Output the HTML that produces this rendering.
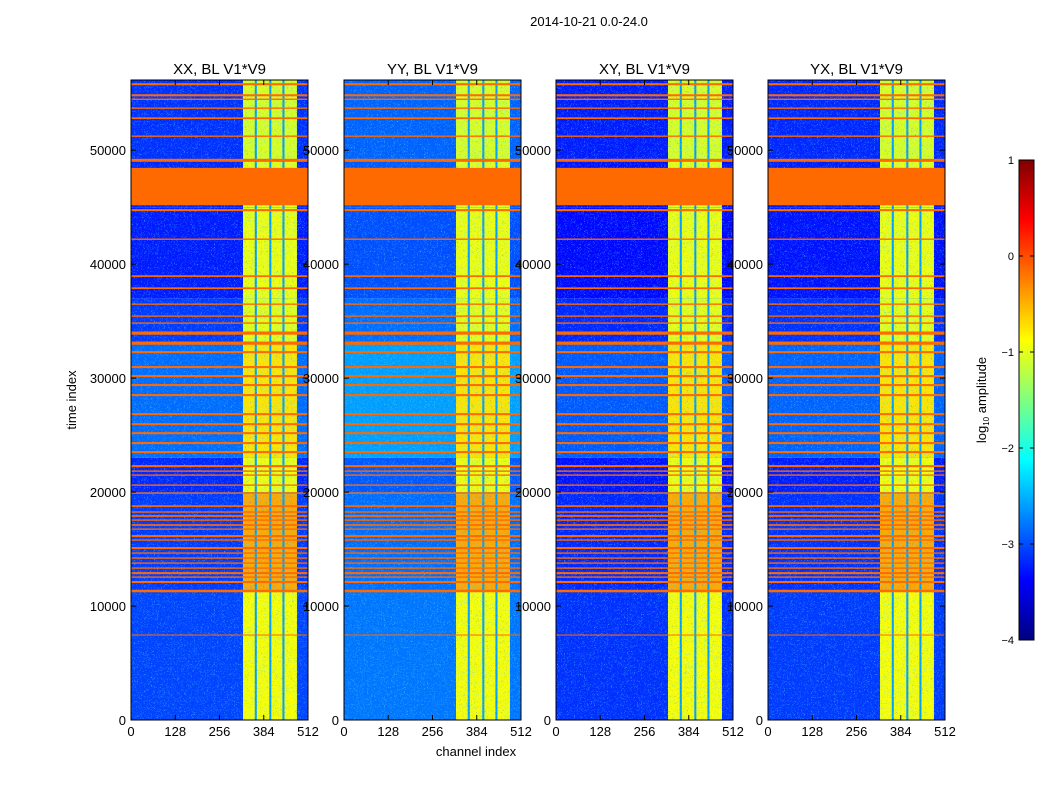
<!DOCTYPE html>
<html><head><meta charset="utf-8"><style>
body{margin:0;background:#fff;}
svg{display:block;font-family:"Liberation Sans","DejaVu Sans",sans-serif;}
</style></head><body>
<svg id="fig" width="1050" height="800" viewBox="0 0 1050 800">
<defs>
<filter id="noise" x="0" y="0" width="100%" height="100%">
<feTurbulence type="turbulence" baseFrequency="0.7" numOctaves="2" seed="3"/>
<feColorMatrix type="matrix" values="0 0 0 0 0.1  0 0 0 0 0.8  0 0 0 0 1  3 0 0 0 -0.9"/>
</filter>
<filter id="noise2" x="0" y="0" width="100%" height="100%">
<feTurbulence type="turbulence" baseFrequency="0.8" numOctaves="1" seed="11"/>
<feColorMatrix type="matrix" values="0 0 0 0 0  0 0 0 0 0.05  0 0 0 0 0.7  3 0 0 0 -1.0"/>
</filter>
<linearGradient id="jet" x1="0" y1="1" x2="0" y2="0">
<stop offset="0" stop-color="#00007f"/><stop offset="0.125" stop-color="#0000ff"/>
<stop offset="0.375" stop-color="#00ffff"/><stop offset="0.625" stop-color="#ffff00"/>
<stop offset="0.875" stop-color="#ff0000"/><stop offset="1" stop-color="#7f0000"/>
</linearGradient>
</defs>
<text x="589" y="26" font-size="13" text-anchor="middle">2014-10-21 0.0-24.0</text>
<text transform="translate(76,400) rotate(-90)" font-size="13" text-anchor="middle">time index</text>
<text x="476" y="756" font-size="13" text-anchor="middle">channel index</text>
<g id="panels"></g>
<g id="cbar"></g>
</svg>
<script>
// ---- data ----
const panelTitles = ["XX, BL V1*V9","YY, BL V1*V9","XY, BL V1*V9","YX, BL V1*V9"];
const xTicks = [0,128,256,384,512];
const yTicks = [0,10000,20000,30000,40000,50000];
const cbTicks = [1,0,-1,-2,-3,-4];
const segStarts = [0,11300,20000,23000,33000,37000,45000,49000];
const segEnds   = [11300,20000,23000,33000,37000,45000,49000,56160];
const bgLevels   = [-3.05,-3.1,-3.2,-2.85,-3.1,-3.25,-3.2,-3.15];
const bandLevels = [-0.9,-0.45,-0.95,-0.75,-1.0,-0.95,-1.0,-1.05];
const panelBgOffset = [0,0.25,-0.1,-0.05];
const bandCols = [[324,358],[364,400],[406,438],[444,480]];
const flagBlock = [45170,48450];
const flagRows = [55790,54820,54470,53690,52810,51230,49120,44740,42190,38950,37890,36490,35440,34830,33950,33070,32280,30970,30180,29390,28510,26840,25960,25170,24300,23510,22280,21840,21490,20610,19910,18770,18250,17900,17540,17110,16750,16140,15790,15090,14650,14210,13770,13330,12890,12540,12110,11320,7460];
const flagHeights = [180,180,120,120,150,120,250,180,120,150,150,120,120,120,280,280,180,180,180,180,180,180,180,180,180,180,180,120,120,120,120,150,120,150,120,150,120,180,120,180,120,120,120,120,180,120,180,220,80];
// ---- scales ----
const panelLeft=[131,344,556,768], PW=177, PT=80, PB=720, TMAX=56160;
const ys = t => PB - (t/TMAX)*(PB-PT);
const xs = (p,c) => panelLeft[p] + c/512*PW;
function jet(v){
  let t=(v+4)/5; t=Math.max(0,Math.min(1,t));
  const r=Math.max(0,Math.min(1,Math.min(4*t-1.5,-4*t+4.5)));
  const g=Math.max(0,Math.min(1,Math.min(4*t-0.5,-4*t+3.5)));
  const b=Math.max(0,Math.min(1,Math.min(4*t+0.5,-4*t+2.5)));
  return `rgb(${Math.round(r*255)},${Math.round(g*255)},${Math.round(b*255)})`;
}
const NS="http://www.w3.org/2000/svg";
function mk(tag,attrs,parent){const e=document.createElementNS(NS,tag);for(const k in attrs)e.setAttribute(k,attrs[k]);parent.appendChild(e);return e;}
const panelsG=document.getElementById('panels');
for(let p=0;p<4;p++){
  const g=mk('g',{},panelsG);
  
  
  const x0=panelLeft[p];
  const t=mk('text',{x:x0+PW/2,y:74,'font-size':15,'text-anchor':'middle'},g);
  t.textContent=panelTitles[p];
  
  
  const hm=mk('g',{},g);
  
  
  for(let s=0;s<segStarts.length;s++){
    const y1=ys(segEnds[s]), y2=ys(segStarts[s]);
    const r=mk('rect',{x:x0,y:y1,width:PW,height:y2-y1,fill:jet(bgLevels[s]+panelBgOffset[p])},hm);
    
    
    const bg=mk('rect',{x:xs(p,bandCols[0][0]),y:y1,width:xs(p,bandCols[3][1])-xs(p,bandCols[0][0]),height:y2-y1,fill:jet(-2.6)},hm);
    
    
    for(const bc of bandCols){
      const b=mk('rect',{x:xs(p,bc[0]),y:y1,width:xs(p,bc[1])-xs(p,bc[0]),height:y2-y1,fill:jet(bandLevels[s])},hm);
      
      
    }
  }
  mk('rect',{x:x0,y:PT,width:PW,height:PB-PT,filter:'url(#noise)',opacity:0.5},hm);
  mk('rect',{x:x0,y:PT,width:PW,height:PB-PT,filter:'url(#noise2)',opacity:0.45},hm);
  const fb=mk('rect',{x:x0,y:ys(flagBlock[1]),width:PW,height:ys(flagBlock[0])-ys(flagBlock[1]),fill:'#ff6a00'},hm);
  
  
  for(let i=0;i<flagRows.length;i++){
    const y1=ys(flagRows[i]+flagHeights[i]/2), y2=ys(flagRows[i]-flagHeights[i]/2);
    const r=mk('rect',{x:x0,y:y1,width:PW,height:Math.max(1,y2-y1),fill:'#ff6a00'},hm);
    
    
  }
  mk('rect',{x:x0,y:PT,width:PW,height:PB-PT,fill:'none',stroke:'#000','stroke-width':1},g);
  for(const v of xTicks){
    const x=xs(p,v);
    mk('line',{x1:x,y1:PB,x2:x,y2:PB-5,stroke:'#000'},g);
    mk('line',{x1:x,y1:PT,x2:x,y2:PT+5,stroke:'#000'},g);
    const tl=mk('text',{x:x,y:PB+16,'font-size':13,'text-anchor':'middle'},g);
    tl.textContent=v;
    
    
  }
  for(const v of yTicks){
    const y=ys(v);
    mk('line',{x1:x0,y1:y,x2:x0+5,y2:y,stroke:'#000'},g);
    mk('line',{x1:x0+PW,y1:y,x2:x0+PW-5,y2:y,stroke:'#000'},g);
    const tl=mk('text',{x:x0-5,y:y+5,'font-size':13,'text-anchor':'end'},g);
    tl.textContent=v;
    
    
  }
}
const cb=document.getElementById('cbar');
const CX=1019,CW=15,CT=160,CB=640;
const cys=v=>CB-(v+4)/5*(CB-CT);
mk('rect',{x:CX,y:CT,width:CW,height:CB-CT,fill:'url(#jet)',stroke:'#000','stroke-width':1},cb);
for(const v of cbTicks){
  const y=cys(v);
  mk('line',{x1:CX,y1:y,x2:CX+4,y2:y,stroke:'#000'},cb);
  mk('line',{x1:CX+CW,y1:y,x2:CX+CW-4,y2:y,stroke:'#000'},cb);
  const tl=mk('text',{x:1014,y:y+4,'font-size':11,'text-anchor':'end'},cb);
  tl.textContent=(v<0?'\u2212'+(-v):v);
  
  
}
const cl=mk('text',{transform:'translate(986,400) rotate(-90)','font-size':13,'text-anchor':'middle'},cb);
cl.innerHTML='log<tspan font-size="8" dy="3">10</tspan><tspan dy="-3"> amplitude</tspan>';


</script>
</body></html>
